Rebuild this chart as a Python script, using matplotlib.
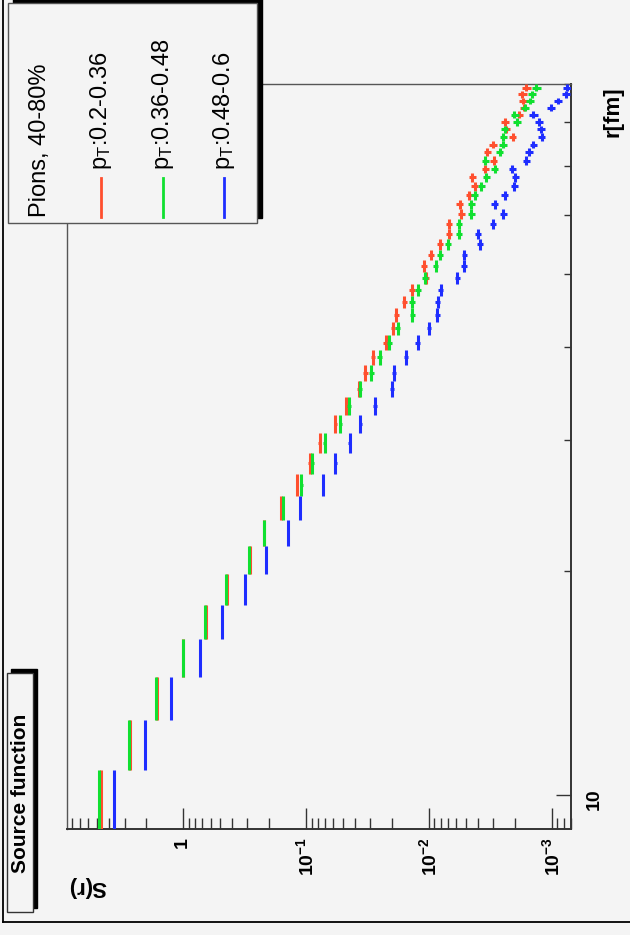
import matplotlib
matplotlib.use("Agg")
import matplotlib.pyplot as plt
from matplotlib.patches import Rectangle
from matplotlib.lines import Line2D
from matplotlib.ticker import FixedLocator, FixedFormatter, NullFormatter

plt.rcParams['font.family'] = ['Liberation Sans', 'DejaVu Sans']
plt.rcParams['mathtext.fontset'] = 'custom'
plt.rcParams['mathtext.rm'] = 'Liberation Sans'
plt.rcParams['mathtext.bf'] = 'Liberation Sans:bold'
plt.rcParams['mathtext.it'] = 'Liberation Sans:italic'
plt.rcParams['mathtext.default'] = 'regular'

# ---------------- data ----------------
title = "Source function"
legend_header = "Pions, 40-80%"
series_labels = ["p$_{T}$:0.2-0.36", "p$_{T}$:0.36-0.48", "p$_{T}$:0.48-0.6"]
series_colors = ["#ff4f2e", "#10e030", "#1e2dff"]

# r bins (fm): centres, bin width 1.8 fm
r_centers = [9.9, 11.7, 13.5, 15.3, 17.1, 18.9, 20.7, 22.5, 24.3, 26.1,
             27.9, 29.7, 31.5, 33.3, 35.1, 36.9, 38.7, 40.5, 42.3, 44.1,
             45.9, 47.7, 49.5, 51.3, 53.1, 54.9, 56.7, 58.5, 60.3, 62.1,
             63.9, 65.7, 67.5, 69.3, 71.1, 72.9, 74.7, 76.5, 78.3, 80.1,
             81.9, 83.7, 85.5, 87.3, 89.1]
r_halfwidth = [0.9] * 45

S_pt1 = [4.69, 2.71, 1.64, 0.996, 0.654, 0.441, 0.287, 0.219, 0.161, 0.118,
         0.0933, 0.0774, 0.0577, 0.0469, 0.0373, 0.0329, 0.0285, 0.0225, 0.0196, 0.0184,
         0.0158, 0.0137, 0.0106, 0.0110, 0.00969, 0.00808, 0.00692, 0.00690, 0.00545, 0.00563,
         0.00467, 0.00425, 0.00444, 0.00346, 0.00296, 0.00335, 0.00302, 0.00208, 0.00234, 0.00239,
         0.00186, 0.00167, 0.00172, 0.00174, 0.00161]
S_pt2 = [4.82, 2.76, 1.667, 1.011, 0.663, 0.445, 0.290, 0.2195, 0.1555, 0.109,
         0.0887, 0.0705, 0.0525, 0.0450, 0.0366, 0.0294, 0.0252, 0.0211, 0.0179, 0.0137,
         0.0137, 0.0123, 0.0108, 0.00882, 0.00818, 0.00701, 0.00573, 0.00570, 0.00452, 0.00450,
         0.00425, 0.00375, 0.00341, 0.00292, 0.00346, 0.00266, 0.00250, 0.00247, 0.00242, 0.00193,
         0.00201, 0.00165, 0.00150, 0.00145, 0.00134]
S_pt3 = [3.64, 2.05, 1.259, 0.732, 0.482, 0.315, 0.2114, 0.140, 0.1111, 0.0727,
         0.0577, 0.0441, 0.0361, 0.0276, 0.0200, 0.0193, 0.0153, 0.0123, 0.0100, 0.00855,
         0.00850, 0.00803, 0.00588, 0.00519, 0.00513, 0.00387, 0.00400, 0.00302, 0.00247, 0.00292,
         0.00242, 0.00201, 0.00198, 0.00210, 0.00161, 0.00154, 0.00141, 0.00121, 0.00122, 0.00128,
         0.00141, 0.00101, 0.000894, 0.000764, 0.000755]

# relative uncertainty of S(r) per bin
rel_err = [0.005, 0.005, 0.005, 0.005, 0.005, 0.008, 0.012, 0.015, 0.018, 0.02,
           0.025, 0.03, 0.03, 0.035, 0.035, 0.04, 0.04, 0.045, 0.045, 0.045,
           0.05, 0.05, 0.05, 0.05, 0.055, 0.055, 0.055, 0.06, 0.06, 0.06,
           0.06, 0.065, 0.065, 0.065, 0.065, 0.07, 0.07, 0.07, 0.07, 0.075,
           0.075, 0.075, 0.075, 0.08, 0.08]

S_major = [1e-3, 1e-2, 1e-1, 1.0]
S_major_labels = [r"$\mathbf{10^{-3}}$", r"$\mathbf{10^{-2}}$", r"$\mathbf{10^{-1}}$", r"$\mathbf{1}$"]
S_minor = [7e-4, 8e-4, 9e-4,
           2e-3, 3e-3, 4e-3, 5e-3, 6e-3, 7e-3, 8e-3, 9e-3,
           2e-2, 3e-2, 4e-2, 5e-2, 6e-2, 7e-2, 8e-2, 9e-2,
           0.2, 0.3, 0.4, 0.5, 0.6, 0.7, 0.8, 0.9,
           2, 3, 4, 5, 6, 7, 8]
r_major = [10]
r_major_labels = ["10"]
r_minor = [20, 30, 40, 50, 60, 70, 80, 90]

# ---------------- figure ----------------
W, H = 630, 935
BG = "#f4f4f4"
fig = plt.figure(figsize=(W / 100, H / 100), dpi=100, facecolor=BG)


def fx(x):
    return x / W


def fy(y):
    return 1 - y / H


ax_l, ax_r, ax_t, ax_b = 66.7, 570.7, 84.3, 829.0
ax = fig.add_axes([fx(ax_l), fy(ax_b), fx(ax_r) - fx(ax_l), fy(ax_t) - fy(ax_b)])
ax.set_facecolor(BG)
ax.set_xscale('log')
ax.set_yscale('log')
ax.set_xlim(8.9, 7e-4)
ax.set_ylim(9, 90)

for S, col in zip([S_pt1, S_pt2, S_pt3], series_colors):
    xerr = [s * e for s, e in zip(S, rel_err)]
    ax.errorbar(S, r_centers, yerr=r_halfwidth, xerr=xerr, fmt='none',
                ecolor=col, elinewidth=2.2, capsize=0, zorder=3)

# S axis (bottom)
ax.xaxis.set_major_locator(FixedLocator(S_major))
ax.xaxis.set_major_formatter(FixedFormatter(S_major_labels))
ax.xaxis.set_minor_locator(FixedLocator(S_minor))
ax.xaxis.set_minor_formatter(NullFormatter())
ax.tick_params(axis='x', which='both', direction='in', top=False, bottom=True,
               labelrotation=90, labelsize=14, pad=6, color='#333333', width=1)
ax.tick_params(axis='x', which='major', length=15)
ax.tick_params(axis='x', which='minor', length=8)

# r axis (right)
ax.yaxis.tick_right()
ax.yaxis.set_major_locator(FixedLocator(r_major))
ax.yaxis.set_major_formatter(FixedFormatter(r_major_labels))
ax.yaxis.set_minor_locator(FixedLocator(r_minor))
ax.yaxis.set_minor_formatter(NullFormatter())
ax.tick_params(axis='y', which='both', direction='in', left=False, right=True,
               labelrotation=90, labelsize=14, pad=11, color='#333333', width=1)
ax.tick_params(axis='y', which='major', length=11)
ax.tick_params(axis='y', which='minor', length=5)
for lab in ax.get_xticklabels() + ax.get_yticklabels():
    lab.set_fontweight('bold')

for side in ['left', 'top']:
    ax.spines[side].set_color('#555555')
    ax.spines[side].set_linewidth(1.0)
for side in ['right', 'bottom']:
    ax.spines[side].set_color('#333333')
    ax.spines[side].set_linewidth(1.4)

# axis titles
fig.text(fx(87), fy(887), "S(r)", rotation=180, fontsize=16, fontweight='bold',
         ha='center', va='center')
fig.text(fx(613), fy(112), "r[fm]", rotation=90, fontsize=16, fontweight='bold',
         ha='center', va='center')

# canvas border
fig.add_artist(Line2D([fx(3), fx(3)], [fy(0), fy(922)], color='black', lw=1.3,
                      transform=fig.transFigure))
fig.add_artist(Line2D([fx(3), fx(630)], [fy(922), fy(922)], color='black', lw=1.3,
                      transform=fig.transFigure))

# title box with shadow
fig.add_artist(Rectangle((fx(11), fy(908)), fx(37) - fx(11), fy(669) - fy(908),
                         transform=fig.transFigure, facecolor='black', edgecolor='black',
                         zorder=5))
fig.add_artist(Rectangle((fx(7.3), fy(911.7)), fx(33) - fx(7.3), fy(673) - fy(911.7),
                         transform=fig.transFigure, facecolor=BG, edgecolor='#333333',
                         lw=1.0, zorder=6))
fig.text(fx(20.5), fy(793), title, rotation=90, fontsize=15, fontweight='bold',
         ha='center', va='center', zorder=7)

# legend box with shadow
fig.add_artist(Rectangle((fx(13), fy(218)), fx(262) - fx(13), fy(-2) - fy(218),
                         transform=fig.transFigure, facecolor='black', edgecolor='black',
                         zorder=5))
fig.add_artist(Rectangle((fx(8.3), fy(223)), fx(257) - fx(8.3), fy(2.7) - fy(223),
                         transform=fig.transFigure, facecolor=BG, edgecolor='#555555',
                         lw=1.0, zorder=6))
fig.text(fx(40), fy(217), legend_header, rotation=90, rotation_mode='anchor',
         fontsize=17, ha='left', va='center', zorder=7)
leg_x = [101, 163, 224]
for xx, lab, col in zip(leg_x, series_labels, series_colors):
    fig.add_artist(Line2D([fx(xx), fx(xx)], [fy(217), fy(178)], color=col, lw=2.0,
                          transform=fig.transFigure, zorder=7))
    fig.text(fx(xx), fy(170), lab, rotation=90, rotation_mode='anchor',
             fontsize=17, ha='left', va='center', zorder=7)

fig.savefig("out.png", dpi=100, facecolor=BG)
